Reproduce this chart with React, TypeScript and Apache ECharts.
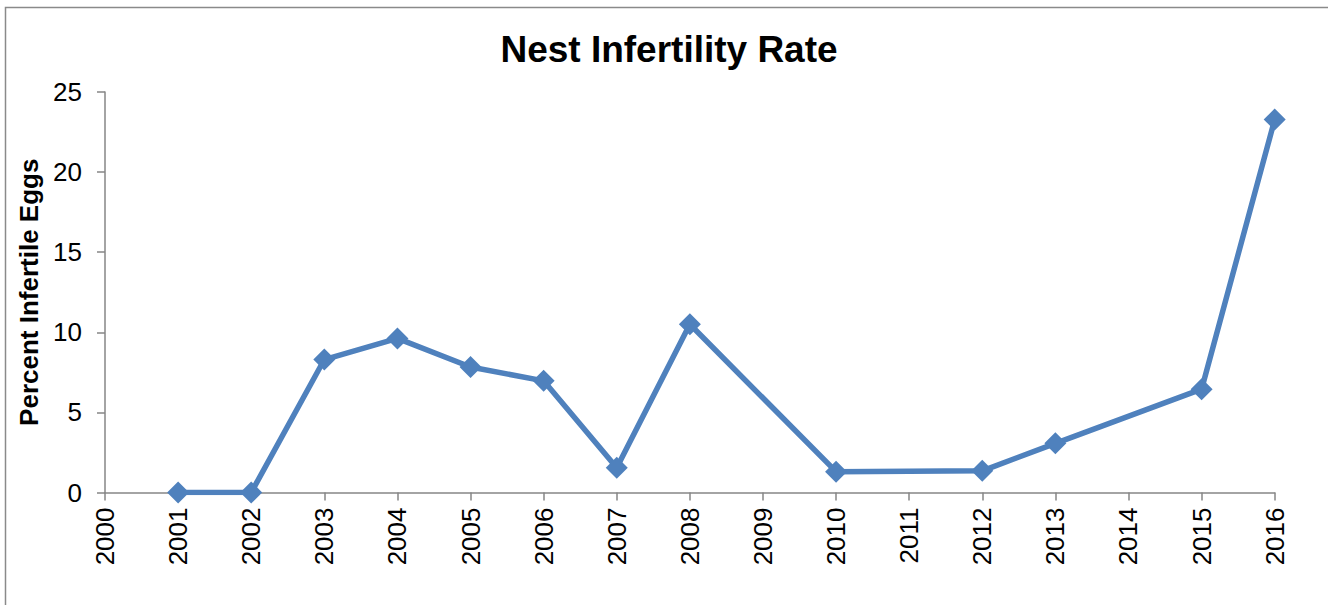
import React, { useEffect, useRef } from "react";
import * as echarts from "echarts";

const years = [2001, 2002, 2003, 2004, 2005, 2006, 2007, 2008, 2010, 2012, 2013, 2015, 2016];
const rates = [0, 0, 8.3, 9.62, 7.83, 6.97, 1.55, 10.5, 1.3, 1.35, 3.07, 6.45, 23.28];
const chartTitle = "Nest Infertility Rate";
const yAxisTitle = "Percent Infertile Eggs";

export default function App() {
  const ref = useRef<HTMLDivElement>(null);
  useEffect(() => {
    if (!ref.current) return;
    const chart = echarts.init(ref.current, null, { renderer: "svg" });
    const font = "'Liberation Sans', Arial, sans-serif";
    chart.setOption({
      animation: false,
      backgroundColor: "#ffffff",
      textStyle: { fontFamily: font },
      title: {
        text: chartTitle,
        left: 664,
        textAlign: "center",
        top: 26,
        textStyle: { fontFamily: font, fontSize: 37, fontWeight: "bold", color: "#000" },
      },
      graphic: [
        {
          type: "rect",
          shape: { x: 5.5, y: 7.5, width: 1340, height: 620 },
          style: { fill: "none", stroke: "#8a8a8a", lineWidth: 1.5 },
          silent: true,
        },
      ],
      grid: { left: 105, right: 53.3, top: 92, bottom: 112.5, containLabel: false },
      xAxis: {
        type: "value",
        min: 2000,
        max: 2016,
        interval: 1,
        splitLine: { show: false },
        axisLine: { show: true, lineStyle: { color: "#868686", width: 1.5 } },
        axisTick: { show: true, length: 8, lineStyle: { color: "#868686", width: 1.5 } },
        axisLabel: {
          rotate: 90,
          margin: 15,
          fontSize: 26,
          color: "#000",
          fontFamily: font,
          formatter: (v: number) => String(v),
        },
      },
      yAxis: {
        type: "value",
        min: 0,
        max: 25,
        interval: 5,
        name: yAxisTitle,
        nameLocation: "middle",
        nameGap: 59,
        nameTextStyle: { fontSize: 26, fontWeight: "bold", color: "#000", fontFamily: font },
        splitLine: { show: false },
        axisLine: { show: true, lineStyle: { color: "#868686", width: 1.5 } },
        axisTick: { show: true, length: 8, lineStyle: { color: "#868686", width: 1.5 } },
        axisLabel: { margin: 23, fontSize: 26, color: "#000", fontFamily: font },
      },
      series: [
        {
          type: "line",
          data: years.map((y, i) => [y, rates[i]]),
          lineStyle: { color: "#4F81BD", width: 5.5 },
          itemStyle: { color: "#4F81BD" },
          symbol: "diamond",
          symbolSize: 22,
          showSymbol: true,
        },
      ],
    });
    return () => chart.dispose();
  }, []);
  return (
    <div
      ref={ref}
      style={{ position: "fixed", left: 0, top: 0, width: 1328, height: 605 }}
    />
  );
}
